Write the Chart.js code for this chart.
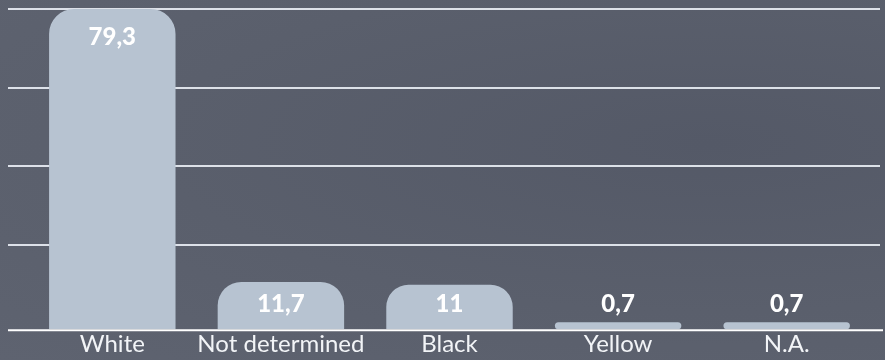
<!DOCTYPE html>
<html>
<head>
<meta charset="utf-8">
<script src="https://cdn.jsdelivr.net/npm/chart.js@4/dist/chart.umd.min.js"></script>
<style>
  html, body { margin: 0; padding: 0; background: #595e6b; }
  #wrap { width: 885px; height: 360px; position: relative;
    background: radial-gradient(ellipse at 80% 40%, #545967 0%, #5a5f6c 55%, #5e6370 100%); }
</style>
</head>
<body>
<div id="wrap"><canvas id="c" width="885" height="360"></canvas></div>
<script>
const categories = ["White", "Not determined", "Black", "Yellow", "N.A."];
const values = [79.3, 11.7, 11, 0.7, 0.7];
const valueLabels = ["79,3", "11,7", "11", "0,7", "0,7"];
const gridValues = [20.8, 40.4, 59.6, 79.3];

const decor = {
  id: 'decor',
  beforeDatasetsDraw(chart) {
    const { ctx } = chart;
    const y = chart.scales.y;
    ctx.save();
    ctx.strokeStyle = 'rgba(235,240,246,0.9)';
    ctx.lineWidth = 2;
    gridValues.forEach(v => {
      const py = Math.round(y.getPixelForValue(v));
      ctx.beginPath();
      ctx.moveTo(8, py);
      ctx.lineTo(880, py);
      ctx.stroke();
    });
    ctx.restore();
  },
  afterDatasetsDraw(chart) {
    const { ctx } = chart;
    const y = chart.scales.y;
    const base = y.getPixelForValue(0);
    ctx.save();
    ctx.strokeStyle = '#ffffff';
    ctx.lineWidth = 2;
    ctx.beginPath();
    ctx.moveTo(8, base + 1);
    ctx.lineTo(883, base + 1);
    ctx.stroke();
    const meta = chart.getDatasetMeta(0);
    ctx.fillStyle = '#ffffff';
    ctx.font = '900 24px Lato, "Open Sans", sans-serif';
    ctx.textAlign = 'center';
    ctx.textBaseline = 'middle';
    meta.data.forEach((bar, i) => {
      const h = base - bar.y;
      const cy = h > 60 ? bar.y + 28 : base - 25;
      ctx.fillText(valueLabels[i], bar.x, cy);
    });
    ctx.restore();
  }
};

new Chart(document.getElementById('c'), {
  type: 'bar',
  data: {
    labels: categories,
    datasets: [{
      data: values,
      backgroundColor: '#b7c3d1',
      borderWidth: 0,
      minBarLength: 7,
      barPercentage: 0.75,
      categoryPercentage: 1,
      borderRadius: (c) => {
        const v = values[c.dataIndex];
        return v < 5 ? 4 : { topLeft: 25, topRight: 25, bottomLeft: 0, bottomRight: 0 };
      },
      borderSkipped: (c) => values[c.dataIndex] < 5 ? false : 'start'
    }]
  },
  options: {
    responsive: false,
    animation: false,
    layout: { padding: { left: 28, right: 14, top: 0, bottom: 0 } },
    plugins: { legend: { display: false }, tooltip: { enabled: false } },
    scales: {
      x: {
        grid: { display: false, drawTicks: false },
        border: { display: false },
        ticks: { color: '#f2f4f7', font: { family: 'Lato, "Open Sans", sans-serif', size: 24 }, padding: 1, maxRotation: 0, autoSkip: false }
      },
      y: {
        display: false,
        min: 0,
        max: 81.5
      }
    }
  },
  plugins: [decor]
});
</script>
</body>
</html>
